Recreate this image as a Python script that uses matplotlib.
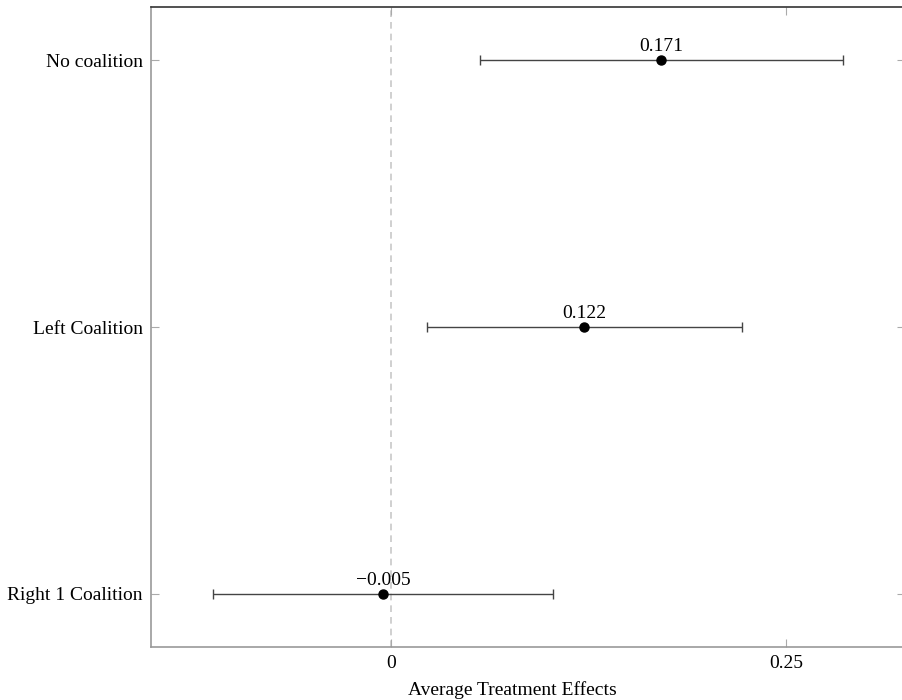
import matplotlib
matplotlib.use("Agg")
import matplotlib.pyplot as plt

categories = ["Right 1 Coalition", "Left Coalition", "No coalition"]
estimates = [-0.005, 0.122, 0.171]
ci_low = [-0.113, 0.023, 0.056]
ci_high = [0.1025, 0.222, 0.286]
xticks = [0, 0.25]
xtick_labels = ["0", "0.25"]

plt.rcParams['font.family'] = ['Liberation Serif', 'DejaVu Serif']

fig = plt.figure(figsize=(9.02, 7), dpi=100)
W, H = 902, 700
ax = fig.add_axes([151 / W, (H - 647) / H, (905 - 151) / W, 640 / H])

ypos = list(range(len(categories)))
xerr_lo = [e - l for e, l in zip(estimates, ci_low)]
xerr_hi = [h - e for e, h in zip(estimates, ci_high)]

ax.axvline(0, color="#c8c8c8", lw=1.2, ls=(0, (4, 3)), zorder=1)
ax.errorbar(estimates, ypos, xerr=[xerr_lo, xerr_hi], fmt="none",
            ecolor="#444444", elinewidth=1.0, capsize=3.5, capthick=1.0, zorder=2)
ax.plot(estimates, ypos, "o", color="black", ms=6.5, zorder=3)

fs = 14
for e, y in zip(estimates, ypos):
    txt = f"{e:.3f}".replace("-", "\u2212")
    ax.annotate(txt, (e, y), xytext=(0, 3.5), textcoords="offset points",
                ha="center", va="bottom", fontsize=fs)

ax.set_xlim(-0.152, 0.3253)
ax.set_ylim(-0.2, 2.2)
ax.set_yticks(ypos)
ax.set_yticklabels(categories, fontsize=fs)
ax.set_xticks(xticks)
ax.set_xticklabels(xtick_labels, fontsize=fs)
ax.tick_params(axis="both", direction="in", length=6, width=0.8, color="#aaaaaa",
               top=True, right=True, pad=6)

for s in ["left", "bottom", "right"]:
    ax.spines[s].set_color("#999999")
    ax.spines[s].set_linewidth(1.2)
ax.spines["top"].set_color("#333333")
ax.spines["top"].set_linewidth(1.2)

fig.text(512 / W, 1 - 690 / H, "Average Treatment Effects", ha="center", va="center",
         fontsize=fs)

fig.savefig("out.png", dpi=100)
